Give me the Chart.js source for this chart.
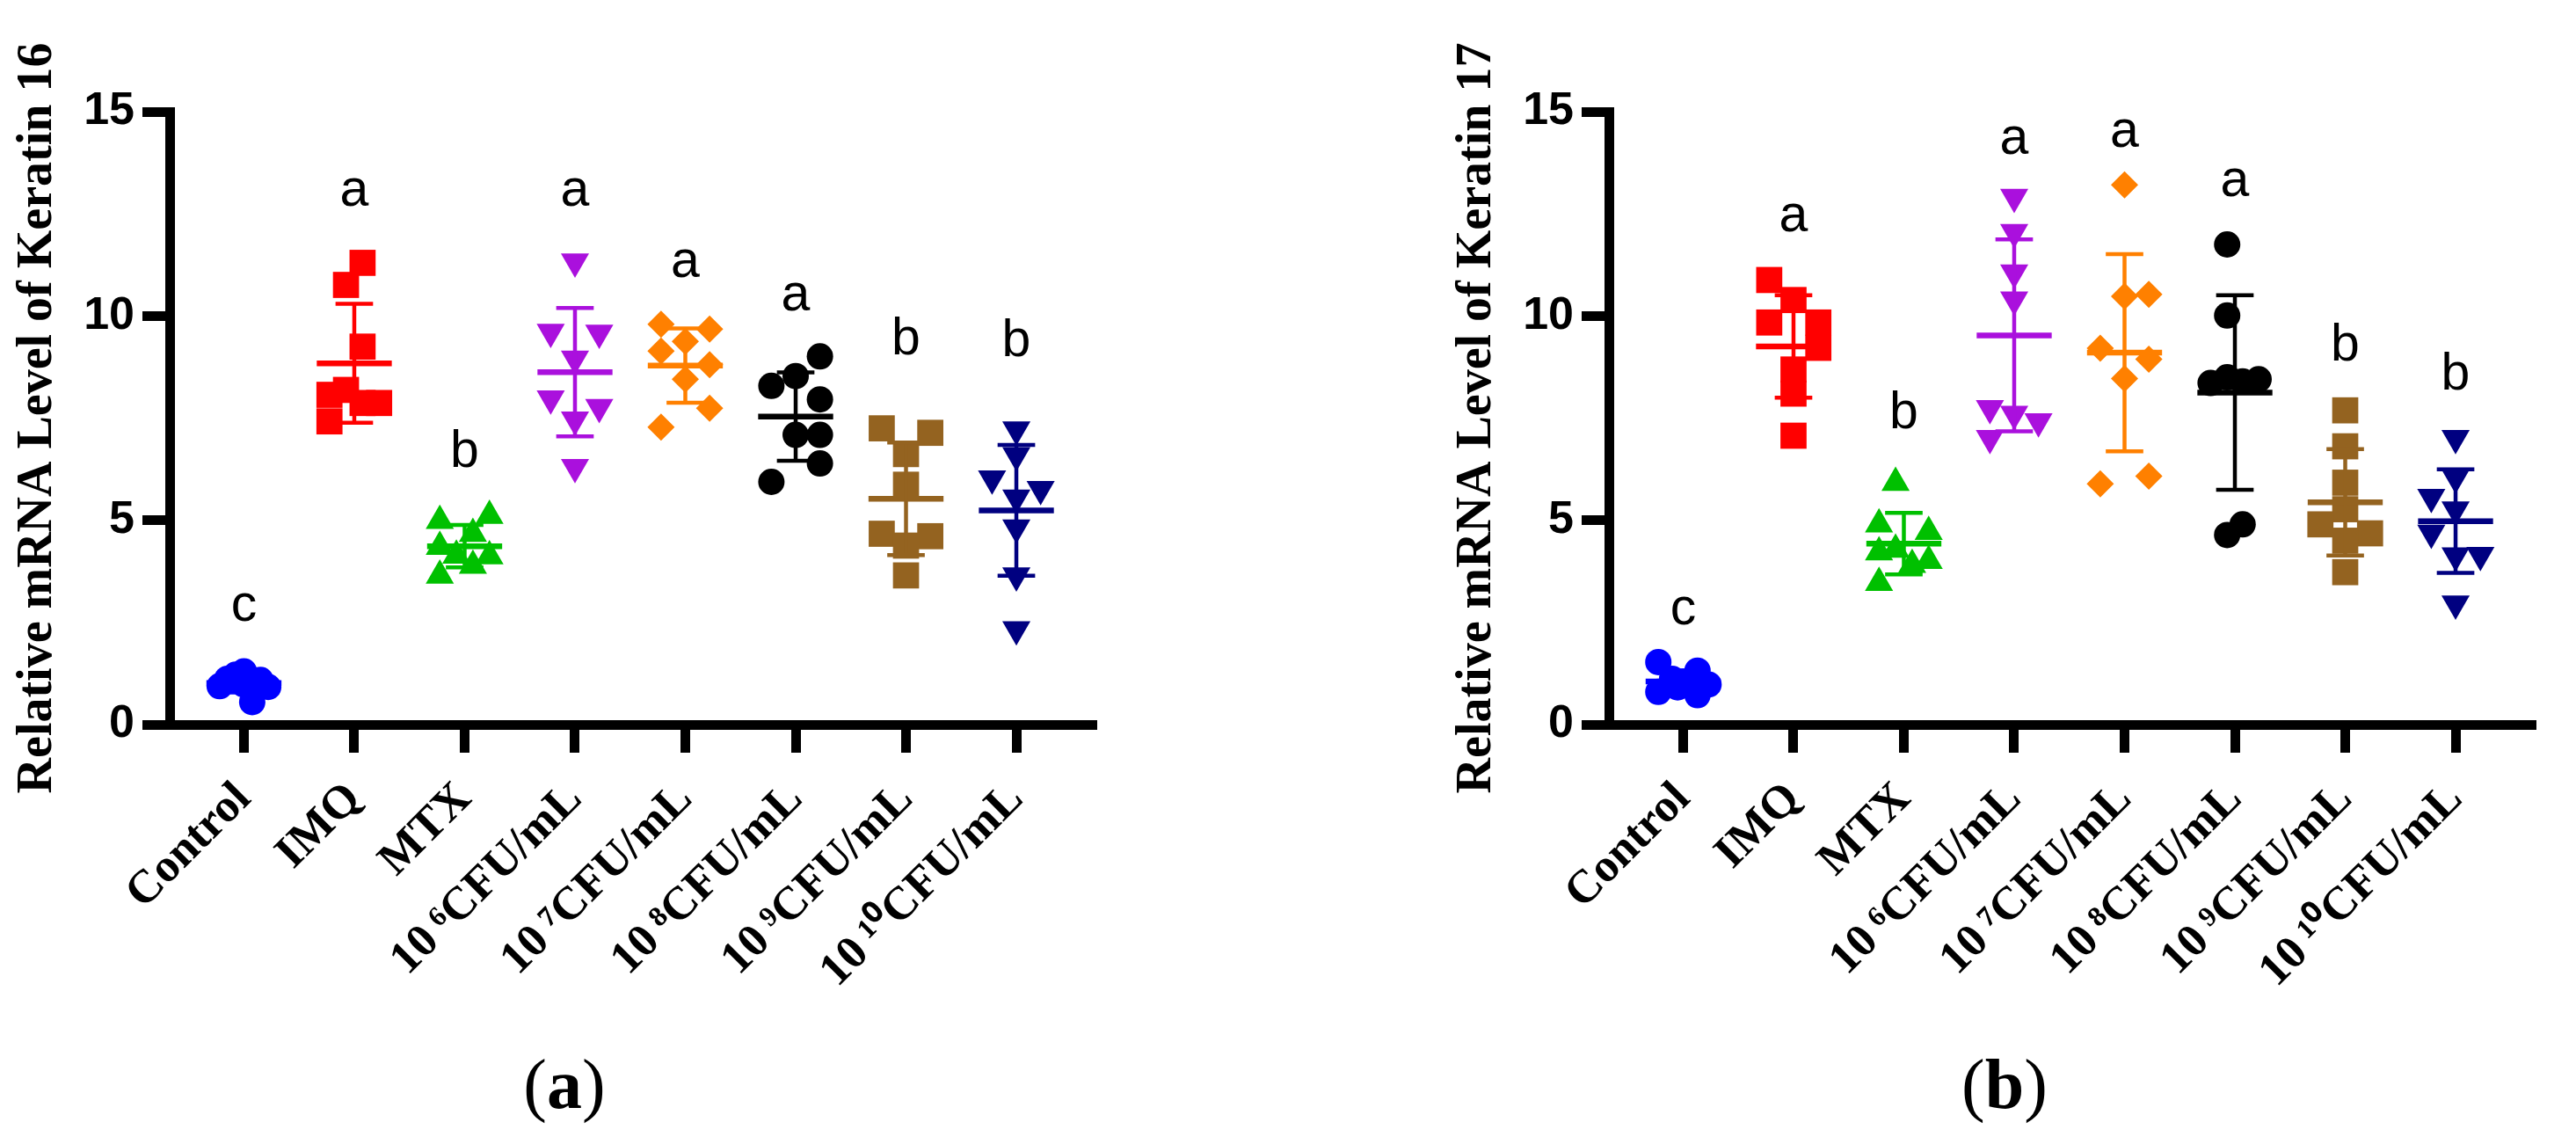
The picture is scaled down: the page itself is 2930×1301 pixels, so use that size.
<!DOCTYPE html>
<html>
<head>
<meta charset="utf-8">
<script src="https://cdn.jsdelivr.net/npm/chart.js@4.4.1/dist/chart.umd.min.js"></script>
<style>
  body { margin: 0; width: 2930px; height: 1301px; background: #fff; position: relative; overflow: hidden; }
  .panel { position: absolute; top: 0; width: 1293px; height: 1301px; }
  .cap { position: absolute; top: 1193px; font-family: 'Liberation Serif', serif; font-size: 80px; line-height: 1; transform: translateX(-50%); white-space: nowrap; color: #000; }
</style>
</head>
<body>
<div class="panel" style="left:0"><canvas id="k16" width="1293" height="1301"></canvas></div>
<div class="panel" style="left:1637px"><canvas id="k17" width="1293" height="1301"></canvas></div>
<div class="cap" style="left:642px">(<b>a</b>)</div>
<div class="cap" style="left:2280px">(<b>b</b>)</div>
<script>
const categories = ['Control', 'IMQ', 'MTX', '10\u2009⁶CFU/mL', '10\u2009⁷CFU/mL', '10\u2009⁸CFU/mL', '10\u2009⁹CFU/mL', '10\u2009¹⁰CFU/mL'];
const yTicks = [0, 5, 10, 15];

// Keratin 16, relative mRNA, one value per animal
const k16Control = [0.94, 1.12, 1.22, 1.30, 1.09, 0.92, 0.55, 0.98];
const k16IMQ = [11.30, 10.76, 9.25, 8.19, 8.07, 7.87, 7.87, 7.42];
const k16MTX = [4.99, 5.11, 4.35, 4.67, 4.14, 4.12, 3.89, 3.65];
const k16E6 = [11.33, 9.61, 9.59, 8.95, 7.98, 7.77, 7.46, 6.30];
const k16E7 = [9.80, 9.68, 9.38, 9.14, 8.81, 8.45, 7.74, 7.28];
const k16E8 = [9.01, 8.53, 8.29, 7.96, 7.09, 7.09, 6.39, 5.94];
const k16E9 = [7.25, 7.14, 6.62, 5.87, 4.67, 4.61, 4.38, 3.65];
const k16E10 = [7.22, 6.59, 6.02, 5.76, 5.55, 4.82, 3.65, 2.33];
const k16Letters = ['c', 'a', 'b', 'a', 'a', 'a', 'b', 'b'];
const k16LetterY = [2.55, 12.70, 6.31, 12.70, 10.95, 10.14, 9.05, 9.02];

// Keratin 17
const k17Control = [1.53, 1.32, 0.98, 0.80, 0.72, 0.91, 1.05, 1.12];
const k17IMQ = [10.88, 10.39, 9.84, 9.84, 9.22, 8.69, 8.10, 7.07];
const k17MTX = [5.92, 4.90, 4.72, 4.22, 4.28, 3.91, 4.01, 3.47];
const k17E6 = [12.91, 12.05, 11.06, 10.40, 7.74, 7.60, 7.42, 7.01];
const k17E7 = [13.21, 10.48, 10.53, 9.21, 8.94, 8.47, 5.89, 6.08];
const k17E8 = [11.75, 10.01, 8.36, 8.50, 8.40, 8.45, 4.64, 4.90];
const k17E9 = [7.69, 6.81, 5.92, 5.27, 4.90, 4.68, 4.50, 3.73];
const k17E10 = [7.01, 6.04, 5.57, 5.26, 4.69, 4.14, 4.15, 2.96];
const k17Letters = ['c', 'a', 'b', 'a', 'a', 'a', 'b', 'b'];
const k17LetterY = [2.45, 12.08, 7.25, 13.97, 14.13, 12.93, 8.92, 8.21];

// horizontal scatter of the dots inside each column (category units)
const k16Spread = [
  [-0.22, -0.15, -0.075, 0, 0.15, 0.22, 0.075, 0],
  [0.075, -0.075, 0.075, -0.075, -0.225, 0.075, 0.225, -0.225],
  [-0.225, 0.225, -0.225, 0.075, -0.075, 0.225, 0.075, -0.225],
  [0, -0.22, 0.22, 0, -0.22, 0.22, 0, 0],
  [-0.22, 0.22, 0, -0.22, 0.22, 0, 0.22, -0.22],
  [0.22, 0, -0.22, 0.22, 0, 0.22, 0.22, -0.22],
  [-0.22, 0.22, 0, 0, -0.22, 0.22, 0, 0],
  [0, 0, -0.22, 0.22, 0, 0, 0, 0]
];
const k17Spread = [
  [-0.225, 0.13, 0.23, -0.225, 0.13, -0.05, 0, -0.1],
  [-0.22, 0, -0.22, 0.225, 0.225, 0, 0, 0],
  [-0.075, -0.225, 0.225, -0.225, -0.075, 0.075, 0.225, -0.225],
  [0, 0, 0, 0, -0.22, 0, 0.22, -0.22],
  [0, 0, 0.22, -0.22, 0.22, 0, -0.22, 0.22],
  [-0.07, -0.07, -0.22, -0.07, 0.07, 0.215, -0.07, 0.07],
  [0, 0, 0, 0, -0.225, 0.225, 0, 0],
  [0, 0, -0.22, 0, -0.22, 0, 0.225, 0]
];

const groupColors = ['#0000ff', '#ff0000', '#00c000', '#aa10dd', '#ff8000', '#000000', '#946320', '#000080'];
const groupStyles = ['circle', 'rect', 'triangle', 'triangle', 'rectRot', 'circle', 'rect', 'triangle'];
const groupRotation = [0, 0, 0, 180, 0, 0, 0, 180];
const groupRadius = [15, 21, 18.5, 18.5, 15.5, 15, 21, 18.5];

function meanSd(vals) {
  const n = vals.length;
  const m = vals.reduce((a, b) => a + b, 0) / n;
  const sd = Math.sqrt(vals.reduce((a, b) => a + (b - m) * (b - m), 0) / (n - 1));
  return [m, sd];
}

function extrasPlugin(groups, letters, letterY) {
  return {
    id: 'extras',
    afterDatasetsDraw(chart) {
      const ctx = chart.ctx, x = chart.scales.x, y = chart.scales.y;
      const seg = (x1, y1, x2, y2) => { ctx.beginPath(); ctx.moveTo(x1, y1); ctx.lineTo(x2, y2); ctx.stroke(); };
      groups.forEach((vals, i) => {
        const [m, sd] = meanSd(vals);
        const ym = y.getPixelForValue(m), yt = y.getPixelForValue(m + sd), yb = y.getPixelForValue(m - sd);
        ctx.save();
        ctx.strokeStyle = groupColors[i];
        ctx.lineWidth = 6.5;
        seg(x.getPixelForValue(i - 0.34), ym, x.getPixelForValue(i + 0.34), ym);
        ctx.lineWidth = 4.5;
        seg(x.getPixelForValue(i), yt, x.getPixelForValue(i), yb);
        seg(x.getPixelForValue(i - 0.17), yt, x.getPixelForValue(i + 0.17), yt);
        seg(x.getPixelForValue(i - 0.17), yb, x.getPixelForValue(i + 0.17), yb);
        ctx.restore();
      });
      ctx.save();
      ctx.fillStyle = '#000';
      ctx.font = '59px "Liberation Sans"';
      ctx.textAlign = 'center';
      ctx.textBaseline = 'alphabetic';
      letters.forEach((t, i) => ctx.fillText(t, x.getPixelForValue(i), y.getPixelForValue(letterY[i])));
      ctx.restore();
    }
  };
}

function buildPanel(id, groups, spread, letters, letterY, title) {
  const datasets = groups.map((vals, i) => ({
    data: vals.map((v, k) => ({ x: i + spread[i][k], y: v })),
    backgroundColor: groupColors[i],
    borderColor: groupColors[i],
    borderWidth: 0,
    pointStyle: groupStyles[i],
    rotation: groupRotation[i],
    pointRadius: groupRadius[i],
    pointHoverRadius: groupRadius[i],
    clip: false
  }));
  const axisLine = { display: true, width: 11, color: '#000' };
  return new Chart(document.getElementById(id), {
    type: 'scatter',
    data: { datasets },
    plugins: [extrasPlugin(groups, letters, letterY)],
    options: {
      responsive: false,
      animation: false,
      devicePixelRatio: 1,
      layout: { padding: { left: 0, top: 127, right: 51, bottom: 0 } },
      plugins: { legend: { display: false }, tooltip: { enabled: false } },
      scales: {
        x: {
          type: 'linear',
          min: -0.669,
          max: 7.685,
          afterBuildTicks: s => { s.ticks = categories.map((c, i) => ({ value: i })); },
          afterFit: s => { s.height = 477; },
          border: axisLine,
          grid: { drawOnChartArea: false, drawTicks: true, tickLength: 32, lineWidth: 11, color: '#000' },
          ticks: {
            autoSkip: false, minRotation: 45, maxRotation: 45, padding: 22, color: '#000',
            font: { family: '"Liberation Serif"', weight: 'bold', size: 53 },
            callback: v => categories[v]
          }
        },
        y: {
          min: 0,
          max: 15,
          afterBuildTicks: s => { s.ticks = yTicks.map(v => ({ value: v })); },
          afterFit: s => { s.width = 193.5; },
          border: axisLine,
          grid: { drawOnChartArea: false, drawTicks: true, tickLength: 31.5, lineWidth: 11, color: '#000' },
          ticks: { padding: 9, color: '#000', font: { family: '"Liberation Sans"', weight: 'bold', size: 52 } },
          title: {
            display: true, text: title, color: '#000', padding: { top: 10, bottom: 0 },
            font: { family: '"Liberation Serif"', weight: 'bold', size: 56, lineHeight: 1.2 }
          }
        }
      }
    }
  });
}

buildPanel('k16', [k16Control, k16IMQ, k16MTX, k16E6, k16E7, k16E8, k16E9, k16E10], k16Spread, k16Letters, k16LetterY, 'Relative mRNA Level of Keratin 16');
buildPanel('k17', [k17Control, k17IMQ, k17MTX, k17E6, k17E7, k17E8, k17E9, k17E10], k17Spread, k17Letters, k17LetterY, 'Relative mRNA Level of Keratin 17');
</script>
</body>
</html>
